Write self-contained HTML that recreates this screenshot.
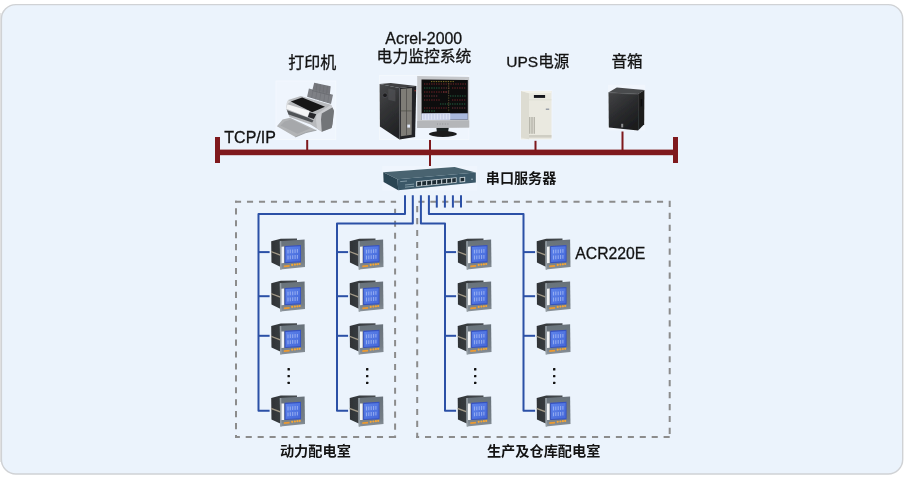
<!DOCTYPE html>
<html><head><meta charset="utf-8"><title>Acrel-2000</title>
<style>
html,body{margin:0;padding:0;background:#fff}
body{width:905px;height:477px;overflow:hidden}
svg{display:block;font-family:"Liberation Sans","Noto Sans CJK SC",sans-serif;fill:#111}
</style></head><body>
<svg width="905" height="477" viewBox="0 0 905 477">
<defs><linearGradient id="mb" x1="0" x2="1" y1="0" y2="0"><stop offset="0" stop-color="#2f3336"/><stop offset="1" stop-color="#484d52"/></linearGradient>
<linearGradient id="mz" x1="0" x2="0" y1="0" y2="1"><stop offset="0" stop-color="#69727a"/><stop offset="0.75" stop-color="#757e86"/><stop offset="1" stop-color="#8a9299"/></linearGradient>
<linearGradient id="ml" x1="0" x2="1" y1="0" y2="1"><stop offset="0" stop-color="#5e84ec"/><stop offset="1" stop-color="#4467d8"/></linearGradient>
<symbol id="meter" width="36" height="33" viewBox="0 0 36 33" overflow="visible">
<g filter="url(#soft)">
<polygon points="0.2,2.7 9.7,0.2 26,0 26,4 9.2,4 9.2,28.2 0.45,24.1" fill="url(#mb)"/>
<polygon points="0.2,12.4 9,15.7 9,17.2 0.2,13.8" fill="#a39a88"/>
<polygon points="8.8,2.7 33.6,1 34,28.6 9.25,31.1" fill="url(#mz)"/>
<polygon points="8.8,2.7 10.3,2.6 10.7,31.05 9.25,31.2" fill="#959ea4"/>
<polygon points="10.5,8.2 13.1,8.1 13.1,24.5 10.5,24.7" fill="#f2f4f6"/>
<polygon points="13.6,7.4 30,6.4 30.1,23.8 13.6,24.7" fill="#3652c0"/>
<polygon points="14.6,8.6 29.1,7.7 29.2,22.8 14.6,23.6" fill="url(#ml)"/>
<g stroke="#b4c6f8" stroke-width="1.1" fill="none" opacity="0.65">
<path d="M17 11.2V15M19.3 11V14.8M21.7 10.9V14.7M24.1 10.7V14.5M26.4 10.6V14.3"/>
<path d="M17 17V20.9M19.3 16.9V20.7M21.7 16.7V20.5M24.1 16.6V20.4M26.4 16.4V20.2"/>
</g>
<polygon points="12.8,26.9 18.6,26.4 18.6,28.2 12.8,28.7" fill="#ec9a30"/>
<circle cx="21.2" cy="26.4" r="1.1" fill="#f4a636"/><circle cx="23.9" cy="26.1" r="1.1" fill="#f4a636"/><circle cx="26.4" cy="25.8" r="1.1" fill="#f4a636"/><circle cx="28.7" cy="25.5" r="1.1" fill="#f4a636"/>
</g>
</symbol>
<linearGradient id="spk" x1="0" x2="0.6" y1="0" y2="1"><stop offset="0" stop-color="#434446"/><stop offset="0.55" stop-color="#2b2c2e"/><stop offset="1" stop-color="#1c1d1f"/></linearGradient><linearGradient id="twr" x1="0" x2="0.3" y1="0" y2="1"><stop offset="0" stop-color="#48494b"/><stop offset="0.5" stop-color="#333436"/><stop offset="1" stop-color="#232426"/></linearGradient><filter id="soft" x="-5%" y="-5%" width="110%" height="110%"><feGaussianBlur stdDeviation="0.35"/></filter></defs>
<rect x="0" y="13" width="1.6" height="449" fill="#e5e5e5"/>
<rect x="1.4" y="4.6" width="901.3" height="469.4" rx="14.5" ry="14.5" fill="#ebf3fc" stroke="#d0d2d5" stroke-width="1.4"/>
<text opacity="0.99" stroke="#111" stroke-width="0.3" x="288.3" y="67.9" font-size="16">打印机</text>
<text opacity="0.99" stroke="#111" stroke-width="0.3" x="423.8" y="43.7" font-size="15.9" text-anchor="middle">Acrel-2000</text>
<text opacity="0.99" stroke="#111" stroke-width="0.3" x="376.6" y="62.1" font-size="15.8">电力监控系统</text>
<text opacity="0.99" stroke="#111" stroke-width="0.3" x="506.3" y="67.4" font-size="15.5">UPS</text>
<text opacity="0.99" stroke="#111" stroke-width="0.3" x="538.2" y="67.3" font-size="15.5">电源</text>
<text opacity="0.99" stroke="#111" stroke-width="0.3" x="611.5" y="67.4" font-size="15.6">音箱</text>
<text opacity="0.99" stroke="#111" stroke-width="0.3" x="224.3" y="142.6" font-size="16">TCP/IP</text>
<g fill="#7f191d"><rect x="215" y="149.6" width="463" height="5.6"/><rect x="215" y="137" width="5" height="26"/><rect x="673" y="137" width="5" height="26"/><rect x="306.2" y="139.8" width="2" height="11"/><rect x="429" y="139.8" width="2" height="26.2"/><rect x="534.5" y="140.8" width="2" height="10"/><rect x="621.5" y="131.5" width="2" height="19"/></g>
<g id="printer">
<rect x="276" y="81" width="59.8" height="58.4" fill="#eff5fd" stroke="#f5f9fe" stroke-width="0.7"/>
<g filter="url(#soft)">
<polygon points="314.2,82.7 330.7,86.3 329.7,95.6 312.2,90.7" fill="#74767b"/>
<polygon points="308.9,88.5 333,94.8 331,104 307.1,96.8" fill="#7e8085"/>
<path d="M312 90.5L330.5 95.2" stroke="#5f6166" stroke-width="0.6"/>
<path d="M317 83.6L316 91.5M320.5 84.4L319.5 92.5M324 85.2L323 93.4M327.5 86L326.5 94.3" stroke="#66686d" stroke-width="0.5"/>
<path d="M313 90L311.6 98M317 91L315.6 99.2M321 92L319.7 100.4M325 93L323.8 101.6M329 94L327.8 102.8" stroke="#6b6d72" stroke-width="0.5"/>
<!-- output tray -->
<polygon points="282.6,119.6 290.1,117.7 316.5,130.2 306,132.6 295.4,137 276.9,126.2" fill="#b2b4b6"/>
<polygon points="284.5,121.6 291.5,119.6 310,128.5 297.5,133.8 280.5,125.6" fill="#a6a8ab"/>
<path d="M295.4 137L306 132.6L316.5 130.2" stroke="#8e9093" stroke-width="0.7" fill="none"/>
<!-- body -->
<path d="M288.1 100.1L300.8 96.1L331 104.8L334 110.2L332.4 123.6L331.6 127.9L321.8 131.7L310.5 124.5L289.5 117L286.1 108.8Z" fill="#b7b9bc"/>
<path d="M316.5 114.5L331 104.8L332.4 107.5L321.8 113.5L321 119.6L321.8 131.7L317 128.5L316 120Z" fill="#cacccf"/>
<path d="M321.8 113.5L332.4 107.5L334 111L332.6 124L331.6 127.9L321.8 131.7L321 119.6Z" fill="#727478"/>
<polygon points="287,110.2 307.5,117.6 313.5,120.6 312.2,122.6 288.5,114.6" fill="#505256"/>
<polygon points="290.8,101.5 302.2,97.4 325,106.8 312.2,112.2" fill="#141517"/>
<polygon points="287.4,104.2 309.6,110.9 307.5,116.9 286.1,108.8" fill="#f3f4f5"/>
<polygon points="309.6,112.2 316.3,114.2 313.8,118.9 307.9,116.9" fill="#25272b"/>
<path d="M288.1 100.1L290.8 101.5L287.4 104.2L286.1 108.8L286.6 103Z" fill="#d8dadc"/>
</g>
</g>
<g id="computer">
<rect x="379.6" y="75.6" width="89.3" height="63.8" fill="#eff5fd" stroke="#f5f9fe" stroke-width="0.7"/>
<g filter="url(#soft)">
<!-- tower -->
<polygon points="379.6,84 390.7,83.1 416.3,86 399.5,87.9" fill="#3f4042"/>
<polygon points="379.6,84 399.5,87.9 399.5,139.4 379.9,126.6" fill="url(#twr)"/>
<polygon points="399.5,87.9 416.3,86 415.1,137 399.5,139.4" fill="#222325"/>
<polygon points="400.8,89 412,88 411.7,134.7 400.8,136.3" fill="#7f7d77"/>
<path d="M406.5 88.5V135.5M400.8 110.9H411.8" stroke="#4a4946" stroke-width="0.7"/>
<rect x="407.3" y="124.6" width="2.8" height="3" fill="#e3ebfc"/>
<polygon points="388.3,88.6 395.4,90 395.4,101.5 388.3,99.8" fill="#58595c" opacity="0.55"/>
<circle cx="385" cy="95.3" r="2.3" fill="#1c1d1f" stroke="#55565a" stroke-width="0.6"/>
<rect x="414.6" y="90" width="1" height="1.4" fill="#a33"/>
<!-- monitor -->
<polygon points="436.3,127 448.8,127 448,133 437,133" fill="#1f2022"/>
<ellipse cx="442.9" cy="134" rx="14" ry="2.9" fill="#1b1c1e"/>
<polygon points="417.2,76.1 469.2,77 469.2,127.6 417.2,127.9" fill="#c6c8cb"/>
<polygon points="417.2,121 469.2,120.6 469.2,127.6 417.2,127.9" fill="#b4b6b9"/>
<polygon points="421.5,79.5 467.8,80 467.8,119.6 421.6,119.9" fill="#0d0c0e"/>
<polygon points="421.6,113.4 467.8,113.2 467.8,119.6 421.6,119.9" fill="#a9b8dc"/>
<polygon points="421.6,113.4 450.2,113.3 450.2,119.7 421.6,119.9" fill="#dde3f6"/>
<path d="M424 114V119.5M427 114V119.5M430 114V119.5M433 114V119.5M436 114V119.5M439 114V119.5M442 114V119.5M445 114V119.5M448 114V119.5" stroke="#b0b8dc" stroke-width="0.7"/>
<g fill="none" stroke-width="0.7" stroke-dasharray="1.3 1.1">
<path d="M424 84H466M424 92H447M424 100H440M424 108H447M452 88H466M452 100H466" stroke="#a33434"/>
<path d="M424 88H440M450 96H466M440 104H466M424 111H436" stroke="#2f8f5a"/>
<path d="M431 81.6H455" stroke="#b5a030"/>
<path d="M441 88H450M424 96H438M452 108H466M443 92H449" stroke="#9a4a4a"/>
<path d="M448.7 83V112" stroke="#7a6a3a"/>
</g>
<path d="M437 124H450" stroke="#8a8c90" stroke-width="0.8" stroke-dasharray="1 1.6"/>
</g>
</g>
<g id="ups">
<rect x="520" y="90" width="32.6" height="50" fill="#f1f6fd"/>
<g filter="url(#soft)">
<polygon points="521,91 551.5,91 551.5,139.3 521,139.3" fill="#eae9e0"/>
<polygon points="521,91 529,93.2 529,139.3 521,137.5" fill="#dddcd2"/>
<polygon points="521,91 551.5,91 551.5,93 529,93.2" fill="#f3f2ea"/>
<rect x="533.9" y="95" width="11.2" height="2.9" fill="#17181a"/>
<rect x="545.8" y="108.5" width="3.4" height="1.5" fill="#9aa0a8"/>
<g stroke="#a3a298" stroke-width="0.8"><path d="M529.6 117V133.8M531.2 117V133.8M532.8 117V133.8M534.4 117V133.8"/></g>
<rect x="529" y="135" width="22.5" height="2.6" fill="#cfcec4"/><path d="M529 99.8H551.5" stroke="#d8d7cd" stroke-width="0.6"/>
</g>
</g>
<g id="speaker">
<rect x="608" y="84.8" width="37.2" height="45.6" fill="#f1f6fd"/>
<g filter="url(#soft)">
<polygon points="608.3,92.4 616.8,87.6 644.4,90 638.1,94" fill="#4a4b4d"/>
<polygon points="638.1,94 644.4,90 644.2,124.3 638.1,130.5" fill="#1b1c1e"/>
<polygon points="608.5,92.4 638.1,94 638.1,130.5 608.8,127.5" fill="url(#spk)"/><path d="M608.6 92.8L638 94.3" stroke="#58595b" stroke-width="0.6"/>
<rect x="640.6" y="99" width="1.6" height="7.5" fill="#0c0c0d"/>
<rect x="621.2" y="123.8" width="2" height="3.6" fill="#8d8e90"/>
</g>
</g>
<g id="switch">
<rect x="382.3" y="166" width="94.8" height="24.6" fill="#eff5fd"/>
<g filter="url(#soft)">
<polygon points="383.2,172.2 454.6,166.9 475.8,172.6 397.5,179.2" fill="#48646f"/>
<polygon points="383.2,172.2 397.5,179.2 398.2,190.2 383.6,181.9" fill="#2c4452"/>
<polygon points="397.5,179.2 475.8,172.6 475.8,182.5 398.2,190.2" fill="#3a5868"/>
<polygon points="416.1,181.2 456.6,177.2 456.6,182.7 416.1,186.8" fill="#c9d3d8"/>
<g fill="#1c2a32">
<polygon points="417.2,181.9 421.1,181.5 421.1,185.6 417.2,186"/>
<polygon points="422.2,181.4 426.1,181 426.1,185.1 422.2,185.5"/>
<polygon points="427.2,180.9 431.1,180.5 431.1,184.6 427.2,185"/>
<polygon points="432.2,180.4 436.1,180 436.1,184.1 432.2,184.5"/>
<polygon points="437.2,179.9 441.1,179.5 441.1,183.6 437.2,184"/>
<polygon points="442.2,179.4 446.1,179 446.1,183.1 442.2,183.5"/>
<polygon points="447.2,178.9 451.1,178.5 451.1,182.6 447.2,183"/>
<polygon points="452.2,178.4 455.8,178 455.8,182.1 452.2,182.5"/>
</g>
<polygon points="459.6,177.2 465.2,176.7 465.2,181.9 459.6,182.4" fill="#c9d3d8"/>
<polygon points="460.6,178.1 464.2,177.8 464.2,181.1 460.6,181.4" fill="#1c2a32"/>
<circle cx="472" cy="179.2" r="0.8" fill="#a9bcc6"/>
<path d="M400.2 181.6L407 181M405 185L414 184.1M405 187.2L414 186.3" stroke="#9fb4be" stroke-width="0.7"/>
</g>
</g>

<text opacity="0.99" x="485.8" y="182.8" font-size="14.1" font-weight="bold">串口服务器</text>
<g stroke="#8c8c8c" stroke-width="2" fill="none">
<line x1="235" y1="201.8" x2="396.1" y2="201.8" stroke-dasharray="6.1 5.88" stroke-dashoffset="0.00"/>
<line x1="236" y1="200.8" x2="236" y2="438.1" stroke-dasharray="6.1 5.83" stroke-dashoffset="4.43"/>
<line x1="395.1" y1="202.8" x2="395.1" y2="438.1" stroke-dasharray="6.1 5.83" stroke-dashoffset="5.93"/>
<line x1="235" y1="437.1" x2="396.1" y2="437.1" stroke-dasharray="6.1 5.83" stroke-dashoffset="1.23"/>
<line x1="418.4" y1="201.8" x2="664" y2="201.8" stroke-dasharray="6.1 5.83" stroke-dashoffset="0.00"/>
<line x1="417.2" y1="204" x2="417.2" y2="438.1" stroke-dasharray="6.1 5.83" stroke-dashoffset="9.83"/>
<line x1="669.7" y1="200.8" x2="669.7" y2="434.5" stroke-dasharray="6.2 5.75" stroke-dashoffset="0.00"/>
<line x1="416.2" y1="437.1" x2="670.7" y2="437.1" stroke-dasharray="6.1 5.83" stroke-dashoffset="3.13"/>
</g>
<g stroke="#2b50a6" stroke-width="2" fill="none" stroke-linejoin="round">
<path d="M405 195.3V214H258.5V410.8H269.6"/>
<path d="M412.8 195.3V223.4H337V410.8H348.1"/>
<path d="M420.9 195.3V223.4H445V410.8H456.1"/>
<path d="M428.9 195.3V214H523.5V410.8H535.1"/>
<path d="M436.8 195.3V207.6"/>
<path d="M444.9 195.3V207.6"/>
<path d="M452.9 195.3V207.6"/>
<path d="M461 195.3V207.6"/>
<path d="M258.5 252.1H269.6"/>
<path d="M258.5 296.2H269.6"/>
<path d="M258.5 335.8H269.6"/>
<path d="M337 252.1H348.1"/>
<path d="M337 296.2H348.1"/>
<path d="M337 335.8H348.1"/>
<path d="M445 252.1H456.1"/>
<path d="M445 296.2H456.1"/>
<path d="M445 335.8H456.1"/>
<path d="M523.5 252.1H535.1"/>
<path d="M523.5 296.2H535.1"/>
<path d="M523.5 335.8H535.1"/>
</g>
<use href="#meter" x="271" y="238.5"/>
<use href="#meter" x="271" y="280.5"/>
<use href="#meter" x="271" y="323.3"/>
<use href="#meter" x="271" y="395.4"/>
<use href="#meter" x="349.5" y="238.5"/>
<use href="#meter" x="349.5" y="280.5"/>
<use href="#meter" x="349.5" y="323.3"/>
<use href="#meter" x="349.5" y="395.4"/>
<use href="#meter" x="457.5" y="238.5"/>
<use href="#meter" x="457.5" y="280.5"/>
<use href="#meter" x="457.5" y="323.3"/>
<use href="#meter" x="457.5" y="395.4"/>
<use href="#meter" x="536.5" y="238.5"/>
<use href="#meter" x="536.5" y="280.5"/>
<use href="#meter" x="536.5" y="323.3"/>
<use href="#meter" x="536.5" y="395.4"/>
<rect x="287.5" y="368.0" width="2.4" height="2.4" rx="0.5" fill="#111"/>
<rect x="287.5" y="374.9" width="2.4" height="2.4" rx="0.5" fill="#111"/>
<rect x="287.5" y="381.7" width="2.4" height="2.4" rx="0.5" fill="#111"/>
<rect x="366.0" y="368.0" width="2.4" height="2.4" rx="0.5" fill="#111"/>
<rect x="366.0" y="374.9" width="2.4" height="2.4" rx="0.5" fill="#111"/>
<rect x="366.0" y="381.7" width="2.4" height="2.4" rx="0.5" fill="#111"/>
<rect x="474.0" y="368.0" width="2.4" height="2.4" rx="0.5" fill="#111"/>
<rect x="474.0" y="374.9" width="2.4" height="2.4" rx="0.5" fill="#111"/>
<rect x="474.0" y="381.7" width="2.4" height="2.4" rx="0.5" fill="#111"/>
<rect x="553.0" y="368.0" width="2.4" height="2.4" rx="0.5" fill="#111"/>
<rect x="553.0" y="374.9" width="2.4" height="2.4" rx="0.5" fill="#111"/>
<rect x="553.0" y="381.7" width="2.4" height="2.4" rx="0.5" fill="#111"/>
<text opacity="0.99" stroke="#111" stroke-width="0.3" x="575.3" y="259.3" font-size="15.75">ACR220E</text>
<text opacity="0.99" x="279.9" y="456" font-size="14.2" font-weight="bold">动力配电室</text>
<text opacity="0.99" x="486.9" y="456" font-size="14.2" font-weight="bold">生产及仓库配电室</text>
</svg>
</body></html>
